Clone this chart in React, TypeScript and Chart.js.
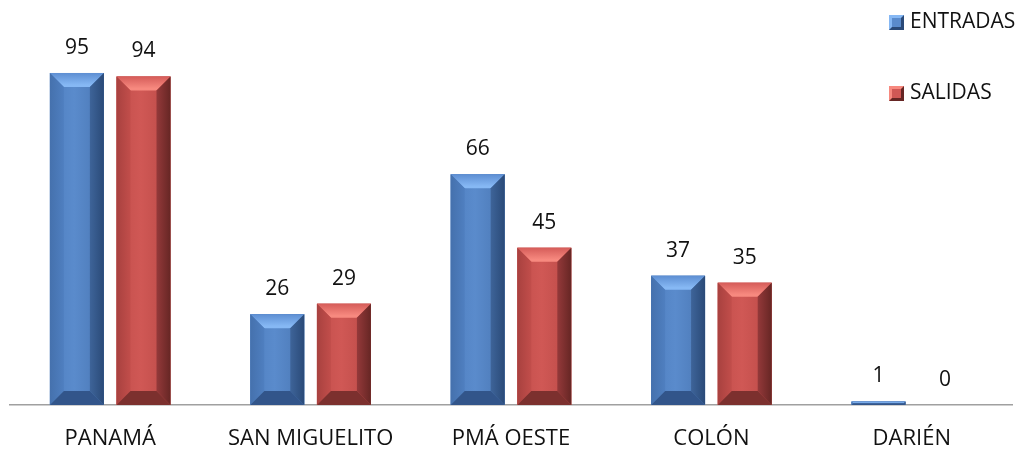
import React, { useEffect, useRef } from "react";
import { Chart, registerables } from "chart.js";

Chart.register(...registerables);

const categories = ["PANAMÁ", "SAN MIGUELITO", "PMÁ OESTE", "COLÓN", "DARIÉN"];
const entradas = [95, 26, 66, 37, 1];
const salidas = [94, 29, 45, 35, 0];
const seriesNames = ["ENTRADAS", "SALIDAS"];

const FONT = "'Open Sans', 'Noto Sans', sans-serif";

const palettes = [
  { face: "#5a8bcc", faceL: "#4f7fc0", faceR: "#4a77b4", topA: "#5d8ed2", top: "#86b8f4", left: "#4571ad", right: "#2a4a78", rightA: "#3e6499", bottom: "#32558a" },
  { face: "#d05855", faceL: "#c24e4b", faceR: "#bb4a47", topA: "#d55c59", top: "#f7897f", left: "#a8413f", right: "#662624", rightA: "#94393a", bottom: "#7c302e" },
];

const bevelPlugin = {
  id: "bevel",
  afterDatasetsDraw(chart: any) {
    const ctx = chart.ctx;
    chart.data.datasets.forEach((ds: any, di: number) => {
      const meta = chart.getDatasetMeta(di);
      const p = palettes[di];
      meta.data.forEach((bar: any) => {
        const { x, y, base, width } = bar.getProps(["x", "y", "base", "width"], true);
        const l = x - width / 2;
        const r = x + width / 2;
        const t = Math.min(y, base);
        const b = Math.max(y, base);
        const h = b - t;
        if (h <= 0) return;
        const bv = Math.min(14, h / 2, width / 2);
        ctx.save();
        const g = ctx.createLinearGradient(l, 0, r, 0);
        g.addColorStop(0, p.faceL);
        g.addColorStop(0.45, p.face);
        g.addColorStop(1, p.faceR);
        ctx.fillStyle = g;
        ctx.fillRect(l, t, width, h);
        const poly = (pts: number[][], fill: any) => {
          ctx.beginPath();
          ctx.moveTo(pts[0][0], pts[0][1]);
          for (let i = 1; i < pts.length; i++) ctx.lineTo(pts[i][0], pts[i][1]);
          ctx.closePath();
          ctx.fillStyle = fill;
          ctx.fill();
        };
        // top
        const gt = ctx.createLinearGradient(0, t, 0, t + bv);
        gt.addColorStop(0, p.topA);
        gt.addColorStop(0.85, p.top);
        gt.addColorStop(1, p.top);
        poly([[l, t], [r, t], [r - bv, t + bv], [l + bv, t + bv]], gt);
        // left
        const gl = ctx.createLinearGradient(l, 0, l + bv, 0);
        gl.addColorStop(0, p.left);
        gl.addColorStop(1, p.faceL);
        poly([[l, t], [l + bv, t + bv], [l + bv, b - bv], [l, b]], gl);
        // right
        const gr = ctx.createLinearGradient(r - bv, 0, r, 0);
        gr.addColorStop(0, p.rightA);
        gr.addColorStop(1, p.right);
        poly([[r, t], [r - bv, t + bv], [r - bv, b - bv], [r, b]], gr);
        // bottom
        poly([[l, b], [r, b], [r - bv, b - bv], [l + bv, b - bv]], p.bottom);
        ctx.restore();
      });
    });
  },
};

const labelPlugin = {
  id: "valueLabels",
  afterDatasetsDraw(chart: any) {
    const ctx = chart.ctx;
    ctx.save();
    ctx.font = `21px ${FONT}`;
    ctx.fillStyle = "#111111";
    ctx.textAlign = "center";
    ctx.textBaseline = "middle";
    chart.data.datasets.forEach((ds: any, di: number) => {
      const meta = chart.getDatasetMeta(di);
      meta.data.forEach((bar: any, i: number) => {
        const { x, y } = bar.getProps(["x", "y"], true);
        ctx.fillText(String(ds.data[i]), x, y - 25);
      });
    });
    ctx.restore();
  },
};

const legendPlugin = {
  id: "customLegend",
  afterDraw(chart: any) {
    const ctx = chart.ctx;
    ctx.save();
    const items = [
      { y: 22, p: palettes[0], text: seriesNames[0] },
      { y: 93, p: palettes[1], text: seriesNames[1] },
    ];
    items.forEach((it) => {
      const sx = 889, s = 15, sy = it.y - 7;
      ctx.fillStyle = it.p.right;
      ctx.fillRect(sx, sy, s, s);
      ctx.beginPath();
      ctx.moveTo(sx, sy);
      ctx.lineTo(sx + s, sy);
      ctx.lineTo(sx, sy + s);
      ctx.closePath();
      ctx.fillStyle = it.p.top;
      ctx.fill();
      ctx.fillStyle = it.p.face;
      ctx.fillRect(sx + 3, sy + 3, s - 6, s - 6);
      ctx.font = `21px ${FONT}`;
      ctx.fillStyle = "#111111";
      ctx.textAlign = "left";
      ctx.textBaseline = "middle";
      ctx.fillText(it.text, 910, it.y);
    });
    ctx.restore();
  },
};

export default function App() {
  const ref = useRef<HTMLCanvasElement>(null);
  useEffect(() => {
    if (!ref.current) return;
    const chart = new Chart(ref.current, {
      type: "bar",
      data: {
        labels: categories,
        datasets: [
          { label: seriesNames[0], data: entradas, backgroundColor: palettes[0].face, borderWidth: 0 },
          { label: seriesNames[1], data: salidas, backgroundColor: palettes[1].face, borderWidth: 0 },
        ],
      },
      options: {
        animation: false,
        responsive: true,
        maintainAspectRatio: false,
        categoryPercentage: 0.665,
        barPercentage: 0.81,
        layout: { padding: { top: 55.5, left: 10, right: 9, bottom: 0 } },
        plugins: { legend: { display: false }, tooltip: { enabled: false } },
        scales: {
          x: {
            grid: { display: false, drawTicks: false },
            border: { display: true, color: "#a0a0a0", width: 1.5 },
            ticks: { color: "#111111", font: { family: FONT, size: 22 }, padding: 21 },
            afterFit: (scale: any) => { scale.height = 44; },
          },
          y: { display: false, min: 0, max: 100 },
        },
      },
      plugins: [bevelPlugin, labelPlugin, legendPlugin],
    });
    return () => chart.destroy();
  }, []);
  return (
    <div style={{ position: "absolute", left: 0, top: 0, width: 1021, height: 449, background: "#fff" }}>
      <canvas ref={ref} />
    </div>
  );
}
